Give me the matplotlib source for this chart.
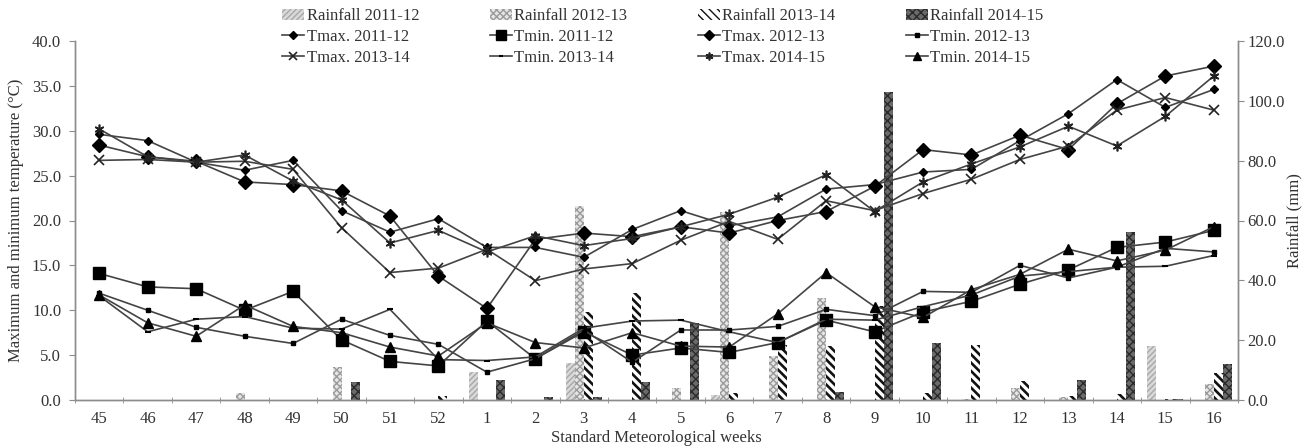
import numpy as np
import matplotlib
matplotlib.use('Agg')
import matplotlib.pyplot as plt

weeks = ['45', '46', '47', '48', '49', '50', '51', '52', '1', '2', '3', '4',
         '5', '6', '7', '8', '9', '10', '11', '12', '13', '14', '15', '16']

# rainfall (mm), right axis
rain_1112 = [0, 0, 0, 0, 0, 0, 0, 0, 9.4, 0, 12.4, 0, 0, 1.6, 0, 0, 0, 0, 0, 0, 0, 0, 18.1, 0]
rain_1213 = [0, 0, 0, 2.3, 0, 11.0, 0, 0, 0, 0, 65.0, 0, 4.1, 62.8, 14.7, 34.1, 0, 0, 0.3, 4.1, 1.0, 0, 0, 5.3]
rain_1314 = [0, 0, 0, 0, 0, 0, 0, 1.5, 0, 0, 29.4, 35.6, 0, 2.4, 18.5, 18.2, 31.5, 2.4, 18.3, 6.3, 1.3, 2.0, 0.3, 8.9]
rain_1415 = [0, 0, 0, 0, 0, 6.1, 0, 0, 6.6, 1.0, 1.0, 6.1, 25.6, 0, 0, 2.7, 102.8, 19.0, 0, 0, 6.7, 56.0, 0.3, 12.0]

# temperatures (deg C), left axis
tmax_1112 = [29.6, 28.9, 26.5, 25.6, 26.7, 21.1, 18.7, 20.2, 17.0, 17.0, 15.9, 19.0,
             21.1, 19.4, 20.4, 23.5, 24.0, 25.4, 25.7, 28.9, 31.9, 35.7, 32.6, 34.6]
tmin_1112 = [14.1, 12.6, 12.4, 10.0, 12.1, 6.7, 4.3, 3.8, 8.8, 4.6, 7.6, 5.0,
             5.8, 5.3, 6.4, 8.9, 7.6, 9.8, 11.0, 12.9, 14.5, 17.0, 17.6, 18.9]
tmax_1213 = [28.4, 27.1, 26.6, 24.3, 24.0, 23.3, 20.5, 13.8, 10.2, 17.9, 18.6, 18.2,
             19.3, 18.6, 20.0, 21.0, 23.8, 27.9, 27.3, 29.5, 27.9, 33.0, 36.1, 37.2]
tmin_1213 = [11.9, 10.0, 8.1, 7.1, 6.3, 9.0, 7.2, 6.2, 3.1, 4.6, 7.8, 4.2,
             7.8, 7.8, 8.2, 10.1, 9.4, 12.1, 12.0, 15.0, 13.6, 14.8, 16.9, 16.5]
tmax_1314 = [26.7, 26.8, 26.5, 26.6, 25.7, 19.2, 14.2, 14.7, 16.8, 13.3, 14.6, 15.2,
             17.8, 19.9, 17.9, 22.2, 21.1, 23.0, 24.6, 26.8, 28.3, 32.3, 33.7, 32.3]
tmin_1314 = [11.6, 7.6, 9.0, 9.3, 8.0, 7.9, 10.1, 4.5, 4.4, 4.8, 8.0, 8.8,
             8.9, 7.6, 6.4, 9.0, 8.9, 10.4, 11.7, 13.8, 14.3, 14.8, 14.9, 16.1]
tmax_1415 = [30.2, 27.1, 26.5, 27.3, 24.4, 22.3, 17.5, 18.9, 16.5, 18.3, 17.2, 18.0,
             19.3, 20.7, 22.6, 25.1, 21.0, 24.3, 26.3, 28.2, 30.5, 28.3, 31.6, 36.1]
tmin_1415 = [11.7, 8.6, 7.1, 10.6, 8.2, 7.5, 5.9, 4.9, 8.6, 6.4, 5.8, 7.5,
             6.0, 5.9, 9.6, 14.2, 10.4, 9.2, 12.3, 14.0, 16.8, 15.5, 16.7, 19.3]

plt.rcParams['font.family'] = ['Liberation Serif', 'DejaVu Serif']
plt.rcParams['hatch.linewidth'] = 1.0
fs = 12
grey = '#8c8c8c'
txt = '#333333'

fig = plt.figure(figsize=(13.04, 4.46), dpi=100)
ax = fig.add_axes([75 / 1304, 1 - 400 / 446, (1238 - 75) / 1304, 359 / 446])
ax2 = ax.twinx()
ax.set_zorder(ax2.get_zorder() + 1)
ax.patch.set_visible(False)

x = np.arange(len(weeks))
w = 0.186

# rainfall bars
b1 = ax2.bar(x - 1.5 * w, rain_1112, w, color='#d9d9d9', edgecolor='#a8a8a8', hatch='//////', linewidth=0)
b2 = ax2.bar(x - 0.5 * w, rain_1213, w, color='#e6e6e6', edgecolor='#9a9a9a', hatch='xxxxx', linewidth=0)
b3 = ax2.bar(x + 0.5 * w, rain_1314, w, color='white', edgecolor='#111111', hatch='\\\\\\\\', linewidth=0)
b4 = ax2.bar(x + 1.5 * w, rain_1415, w, color='#6a6a6a', edgecolor='#2a2a2a', hatch='xxxx', linewidth=0)
# bolder stripes for 2013-14
for p in b3:
    if hasattr(p, 'set_hatch_linewidth'):
        p.set_hatch_linewidth(1.9)

lc = '#444444'
kw = dict(color=lc, lw=1.2, mfc='black', mec='black')
l1 = ax.plot(x, tmax_1112, marker='D', ms=4.5, **kw)[0]
l2 = ax.plot(x, tmin_1112, marker='s', ms=8.5, **kw)[0]
l3 = ax.plot(x, tmax_1213, marker='D', ms=7, **kw)[0]
l4 = ax.plot(x, tmin_1213, marker='s', ms=3.5, **kw)[0]
l5 = ax.plot(x, tmax_1314, marker='x', ms=7, mew=1.2, color=lc, lw=1.2, mec='#222222')[0]
l6 = ax.plot(x, tmin_1314, marker='_', ms=4, mew=1.5, color=lc, lw=1.2, mec='black')[0]
l7 = ax.plot(x, tmax_1415, marker=(6, 2, 0), ms=7, mew=1.2, color=lc, lw=1.2, mec='#222222')[0]
l8 = ax.plot(x, tmin_1415, marker='^', ms=7.5, **kw)[0]

ax.set_xlim(-0.5, len(weeks) - 0.5)
ax.set_ylim(0, 40)
ax2.set_ylim(0, 120)
ax.set_yticks(np.arange(0, 41, 5))
ax.set_yticklabels(['%.1f' % v for v in np.arange(0, 41, 5)])
ax2.set_yticks(np.arange(0, 121, 20))
ax2.set_yticklabels(['%.1f' % v for v in np.arange(0, 121, 20)])
ax.set_xticks(x)
ax.set_xticklabels(weeks)
ax.set_xticks(np.arange(-0.5, len(weeks), 1), minor=True)
ax.tick_params(axis='x', which='major', length=0, pad=8, labelsize=fs, labelcolor=txt)
ax.tick_params(axis='x', which='minor', length=4, direction='inout', color=grey)
ax.tick_params(axis='y', length=4, color=grey, labelsize=fs, labelcolor=txt, pad=6)
ax2.tick_params(axis='y', length=4, color=grey, labelsize=fs, labelcolor=txt, pad=3)

for a in (ax, ax2):
    a.spines['top'].set_visible(False)
    for s in ('left', 'right', 'bottom'):
        a.spines[s].set_color(grey)
        a.spines[s].set_linewidth(1.0)

ax.set_ylabel('Maximum and minimum temperature (°C)', fontsize=fs, color=txt, labelpad=6)
ax2.set_ylabel('Rainfall (mm)', fontsize=fs, color=txt, labelpad=1)
ax.set_xlabel('Standard Meteorological weeks', fontsize=fs, color=txt, labelpad=2)

# legend: 4 columns, filled column by column
handles = [b1, l1, l5, b2, l2, l6, b3, l3, l7, b4, l4, l8]
labels = ['Rainfall 2011-12', 'Tmax. 2011-12', 'Tmax. 2013-14',
          'Rainfall 2012-13', 'Tmin. 2011-12', 'Tmin. 2013-14',
          'Rainfall 2013-14', 'Tmax. 2012-13', 'Tmax. 2014-15',
          'Rainfall 2014-15', 'Tmin. 2012-13', 'Tmin. 2014-15']
fig.legend(handles, labels, ncol=4, loc='upper left', bbox_to_anchor=(274 / 1304, 1.0),
           frameon=False, fontsize=fs, handlelength=1.3, handletextpad=0.15,
           columnspacing=4.25, labelspacing=0.3, borderaxespad=0.1,
           labelcolor=txt, markerscale=0.8)

fig.savefig('out.png', dpi=100)
